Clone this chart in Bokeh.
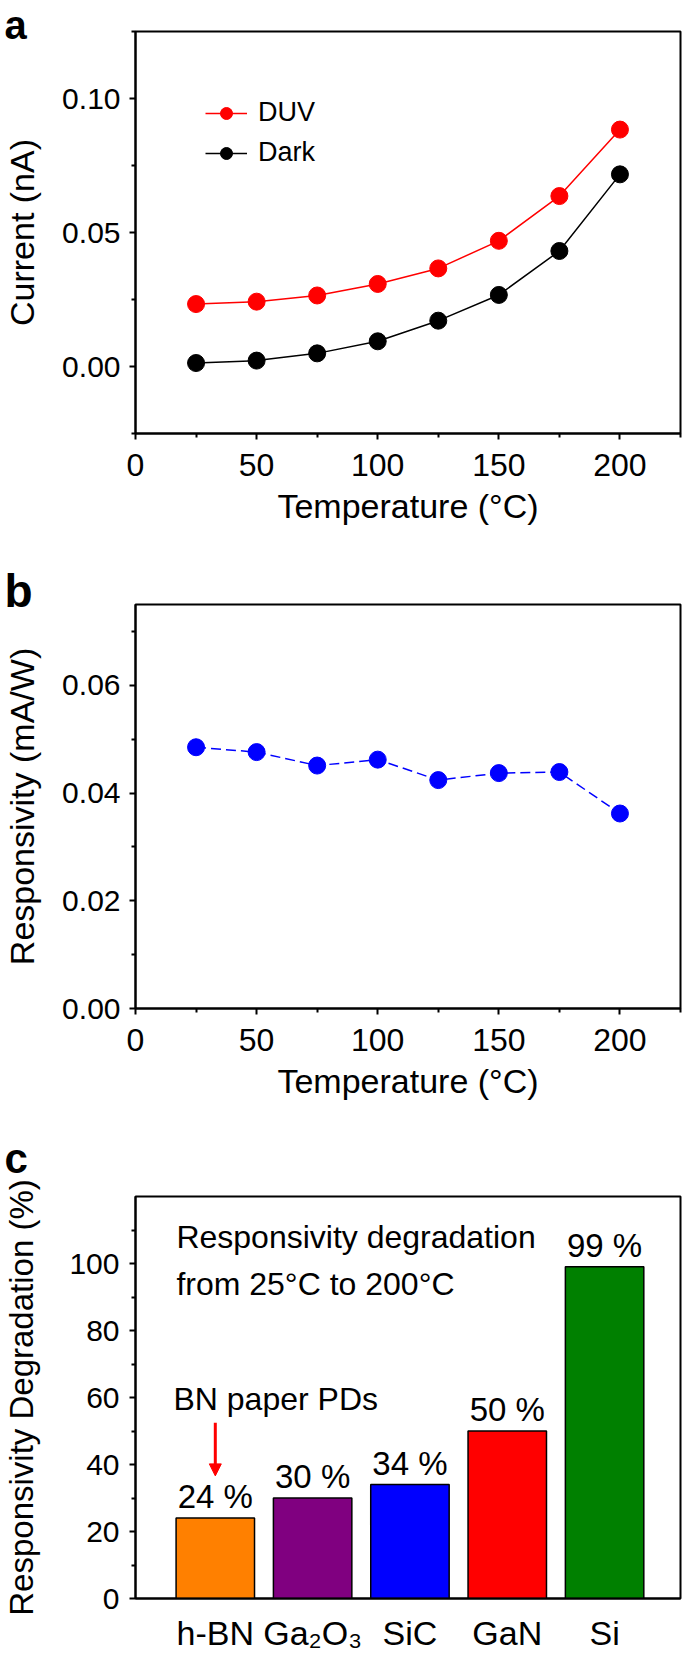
from bokeh.plotting import figure
from bokeh.layouts import column
from bokeh.models import (Range1d, FixedTicker, NumeralTickFormatter, Legend, LegendItem,
                          Label, LabelSet, ColumnDataSource, Arrow, NormalHead)
from bokeh.core.properties import value
from bokeh.embed import file_html
from bokeh.resources import INLINE

# ---------------- data ----------------
temperature = [25, 50, 75, 100, 125, 150, 175, 200]
current_duv = [0.0233, 0.0242, 0.0265, 0.0308, 0.0366, 0.0469, 0.0636, 0.0884]
current_dark = [0.0013, 0.0022, 0.0049, 0.0094, 0.0171, 0.0267, 0.0431, 0.0717]
responsivity = [0.0485, 0.0476, 0.0451, 0.0462, 0.0424, 0.0437, 0.0439, 0.0362]

materials = ["h-BN", "Ga\u2082O\u2083", "SiC", "GaN", "Si"]
degradation = [24, 30, 34, 50, 99]
bar_colors = ["#ff8000", "#800080", "#0000ff", "#ff0000", "#008000"]

temp_ticks = [0, 50, 100, 150, 200]
temp_minor = [25, 75, 125, 175, 225]
cur_ticks = [0.0, 0.05, 0.10]
cur_minor = [-0.025, 0.025, 0.075, 0.125]
resp_ticks = [0.0, 0.02, 0.04, 0.06]
resp_minor = [0.01, 0.03, 0.05, 0.07]
deg_ticks = [0, 20, 40, 60, 80, 100]
deg_minor = [10, 30, 50, 70, 90, 110]

FONT = "Liberation Sans"
W = 685


def style(p, letter, letter_size, letter_standoff):
    p.outline_line_color = "black"
    p.outline_line_width = 2
    p.outline_line_alpha = 1.0
    p.xgrid.visible = False
    p.ygrid.visible = False
    p.background_fill_color = "white"
    p.border_fill_color = "white"
    for ax in p.axis:
        ax.axis_line_width = 2
        ax.axis_line_color = "black"
        ax.major_tick_line_width = 2
        ax.minor_tick_line_width = 2
        ax.major_tick_line_color = "black"
        ax.minor_tick_line_color = "black"
        ax.major_tick_out = 6
        ax.major_tick_in = 0
        ax.minor_tick_out = 4
        ax.minor_tick_in = 0
        ax.major_label_text_font = FONT
        ax.major_label_text_color = "black"
        ax.axis_label_text_font = FONT
        ax.axis_label_text_font_size = "34px"
        ax.axis_label_text_font_style = "normal"
        ax.axis_label_text_color = "black"
    p.xaxis.major_label_text_font_size = "32px"
    p.yaxis.major_label_text_font_size = "30px"
    p.xaxis.major_label_standoff = 14
    p.xaxis.axis_label_standoff = 8
    p.yaxis.major_label_standoff = 9
    # panel letter as the figure title
    p.title.text = letter
    p.title.align = "left"
    p.title.offset = -131
    p.title.standoff = letter_standoff
    p.title.text_font = FONT
    p.title.text_font_size = letter_size
    p.title.text_font_style = "bold"
    p.title.text_color = "black"


# ---------------- panel a ----------------
p1 = figure(width=W, height=537, x_range=Range1d(0, 225), y_range=Range1d(-0.025, 0.125),
            output_backend="svg", toolbar_location=None,
            min_border_left=132, min_border_right=5, min_border_top=31, min_border_bottom=104)
style(p1, "a", "40px", -30)
p1.xaxis.ticker = FixedTicker(ticks=temp_ticks, minor_ticks=temp_minor)
p1.yaxis.ticker = FixedTicker(ticks=cur_ticks, minor_ticks=cur_minor)
p1.yaxis.formatter = NumeralTickFormatter(format="0.00")
p1.xaxis.axis_label = "Temperature (\u00b0C)"
p1.yaxis.axis_label = "Current (nA)"
p1.yaxis.axis_label_standoff = 18

l_duv = p1.line(temperature, current_duv, line_color="#ff0000", line_width=1.5)
s_duv = p1.scatter(temperature, current_duv, marker="circle", size=17,
                   fill_color="#ff0000", line_color="#ff0000")
l_dark = p1.line(temperature, current_dark, line_color="black", line_width=1.5)
s_dark = p1.scatter(temperature, current_dark, marker="circle", size=17,
                    fill_color="black", line_color="black")

legend = Legend(items=[LegendItem(label="DUV", renderers=[l_duv, s_duv]),
                       LegendItem(label="Dark", renderers=[l_dark, s_dark])],
                location=(70, 265), glyph_width=42, glyph_height=30, label_height=30,
                label_standoff=11, spacing=9, padding=0, margin=0,
                border_line_color=None, background_fill_alpha=0,
                label_text_font=FONT, label_text_font_size="27px", label_text_color="black")
p1.add_layout(legend)

# ---------------- panel b ----------------
p2 = figure(width=W, height=575, x_range=Range1d(0, 225), y_range=Range1d(0, 0.075),
            output_backend="svg", toolbar_location=None,
            min_border_left=132, min_border_right=5, min_border_top=67, min_border_bottom=104)
style(p2, "b", "46px", -25)
p2.xaxis.ticker = FixedTicker(ticks=temp_ticks, minor_ticks=temp_minor)
p2.yaxis.ticker = FixedTicker(ticks=resp_ticks, minor_ticks=resp_minor)
p2.yaxis.formatter = NumeralTickFormatter(format="0.00")
p2.xaxis.axis_label = "Temperature (\u00b0C)"
p2.yaxis.axis_label = "Responsivity (mA/W)"
p2.yaxis.axis_label_standoff = 18

p2.line(temperature, responsivity, line_color="#0000ff", line_width=1.5, line_dash="10 5")
p2.scatter(temperature, responsivity, marker="circle", size=17,
           fill_color="#0000ff", line_color="#0000ff")

# ---------------- panel c ----------------
positions = [i + 1 for i in range(len(materials))]
p3 = figure(width=W, height=543, x_range=Range1d(0.18, 5.78), y_range=Range1d(0, 120),
            output_backend="svg", toolbar_location=None,
            min_border_left=132, min_border_right=5, min_border_top=84, min_border_bottom=57)
style(p3, "c", "42px", 30)
p3.xaxis.ticker = FixedTicker(ticks=positions, minor_ticks=[])
p3.xaxis.major_label_overrides = {pos: name for pos, name in zip(positions, materials)}
p3.xaxis.major_tick_out = 0
p3.xaxis.minor_tick_out = 0
p3.xaxis.major_label_standoff = 15
p3.xaxis.major_label_text_font_size = "34px"
p3.yaxis.ticker = FixedTicker(ticks=deg_ticks, minor_ticks=deg_minor)
p3.yaxis.axis_label = "Responsivity Degradation (%)"
p3.yaxis.axis_label_text_font_size = "33px"
p3.yaxis.major_label_standoff = 10
p3.yaxis.axis_label_standoff = 26

src = ColumnDataSource(dict(x=positions, top=degradation, color=bar_colors,
                            label=[f"{v} %" for v in degradation]))
p3.vbar(x="x", top="top", bottom=0, width=0.806, fill_color="color",
        line_color="black", line_width=1.5, source=src)
p3.add_layout(LabelSet(x="x", y="top", text="label", source=src, text_align="center",
                       text_baseline="alphabetic", y_offset=10,
                       text_font=value(FONT), text_font_size=value("33px"),
                       text_color="black"))

p3.add_layout(Label(x=0.6, y=107.8, text="Responsivity degradation", text_font=FONT,
                    text_font_size="32px", text_baseline="middle", text_align="left",
                    text_color="black"))
p3.add_layout(Label(x=0.6, y=94.0, text="from 25\u00b0C to 200\u00b0C", text_font=FONT,
                    text_font_size="32px", text_baseline="middle", text_align="left",
                    text_color="black"))
p3.add_layout(Label(x=0.57, y=59.5, text="BN paper PDs", text_font=FONT,
                    text_font_size="32px", text_baseline="middle", text_align="left",
                    text_color="black"))
p3.add_layout(Arrow(end=NormalHead(size=12, fill_color="#ff0000", line_color="#ff0000"),
                    x_start=positions[0], y_start=52.5, x_end=positions[0], y_end=36.6,
                    line_color="#ff0000", line_width=3))

layout = column(p1, p2, p3, spacing=0)
open("out.html", "w").write(file_html(layout, INLINE))
